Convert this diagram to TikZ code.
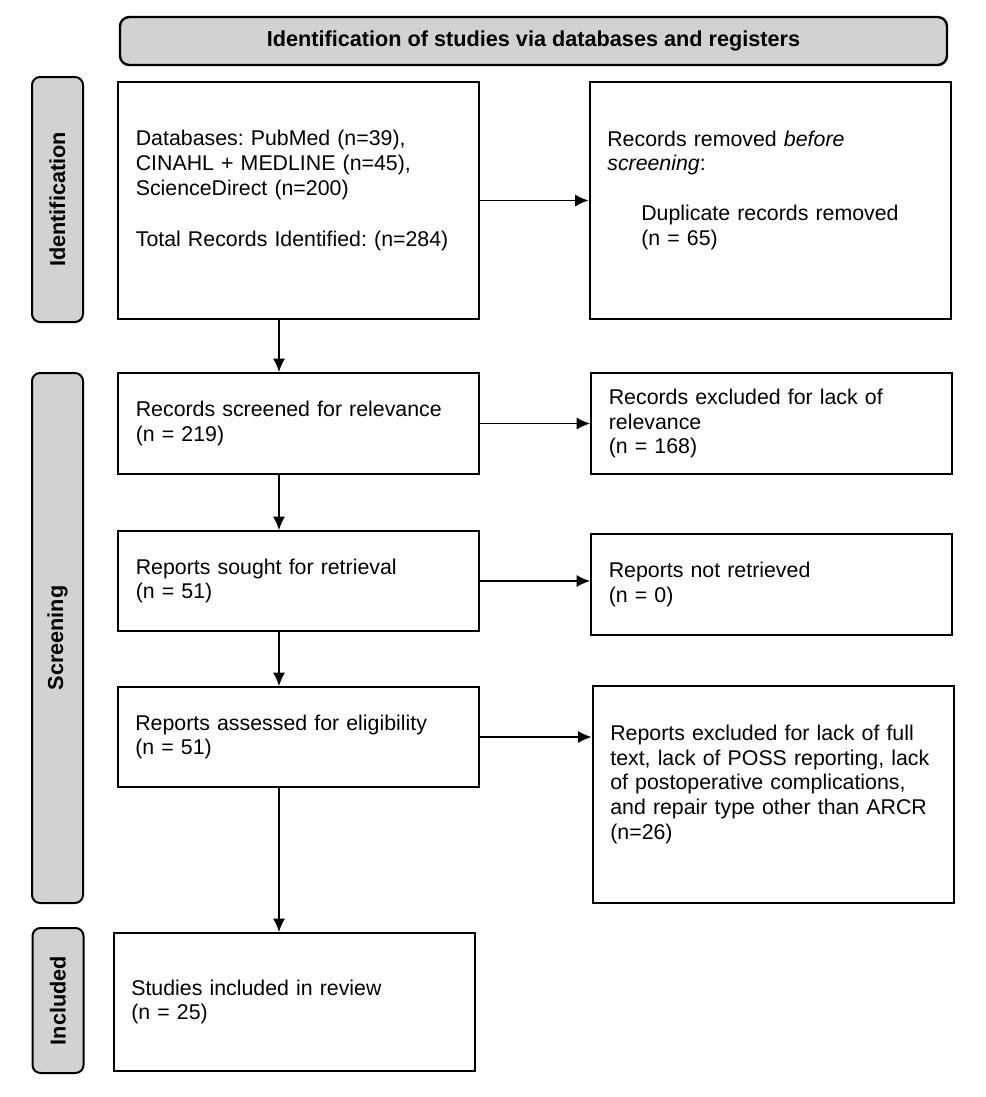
\documentclass[tikz,border=0pt]{standalone}
\usepackage{fontspec}
\setmainfont{Liberation Sans}
\usetikzlibrary{arrows.meta}
\definecolor{tabgray}{RGB}{210,210,210}
\frenchspacing

\begin{document}
\begin{tikzpicture}[x=0.75pt, y=-0.75pt,
  box/.style={draw, line width=1.5pt, align=left, text width=244pt, inner xsep=13.375pt, font=\fontsize{16}{18.5}\selectfont},
  tab/.style={draw, line width=1.5pt, fill=tabgray, rounded corners=6pt, rotate=90, minimum height=38.25pt, inner sep=0pt, font=\fontsize{16.25}{18.5}\selectfont\bfseries},
  arr/.style={-{Latex[length=10pt,width=9pt]}, line width=1pt}]
\useasboundingbox (0,0) rectangle (986,1097);

% header and phase tabs
\node [draw, line width=1.8pt, fill=tabgray, rounded corners=7pt, minimum width=620.25pt, minimum height=36pt, font=\fontsize{16.25}{18.5}\selectfont\bfseries] (header) at (533.5,41) {Identification of studies via databases and registers};
\node [tab, minimum width=183.75pt] (tabident) at (57.5,199.5) {Identification};
\node [tab, minimum width=397.5pt] (tabscreen) at (57.5,638) {Screening};
\node [tab, minimum width=108.75pt] (tabincl) at (58,1000.5) {Included};

% main column
\node [box, minimum height=177.75pt] (ident) at (298.5,200.5) {Databases: PubMed (n=39),\\ CINAHL + MEDLINE (n=45),\\ ScienceDirect (n=200)\\[19.75pt] Total Records Identified: (n=284)\\ \mbox{}};
\node [box, minimum height=75.75pt] (screened) at (298.5,423.5) {Records screened for relevance\\ (n = 219)};
\node [box, minimum height=75pt] (sought) at (298.5,581) {Reports sought for retrieval\\ (n = 51)};
\node [box, minimum height=75pt] (assessed) at (298,737) {Reports assessed for eligibility\\ (n = 51)};
\node [box, minimum height=103.5pt] (included) at (294,1002) {Studies included in review\\ (n = 25)};

% right column
\node [box, minimum height=177.75pt] (removed) at (770,200.5) {Records removed \textit{before}\\ \textit{screening}:\\[19pt] \hspace*{25.5pt}Duplicate records removed\\ \hspace*{25.5pt}(n = 65)\\ \mbox{}};
\node [box, minimum height=75.75pt] (excluded) at (771.5,423.5) {Records excluded for lack of\\ relevance\\ (n = 168)};
\node [box, minimum height=75.75pt] (notretr) at (771.5,584.5) {Reports not retrieved\\ (n = 0)};
\node [box, minimum height=162.75pt] (reportsexcl) at (773,794.5) {Reports excluded for lack of full\\ text, lack of POSS reporting, lack\\ of postoperative complications,\\ and repair type other than ARCR\\ (n=26)\\ \mbox{}};

% connectors
\coordinate (spine) at (279,0);
\draw [arr] (ident.south -| spine) -- (screened.north -| spine);
\draw [arr] (screened.south -| spine) -- (sought.north -| spine);
\draw [arr] (sought.south -| spine) -- (assessed.north -| spine);
\draw [arr] (assessed.south -| spine) -- (included.north -| spine);
\draw [arr] (ident.east) -- (removed.west);
\draw [arr] (screened.east) -- (excluded.west);
\draw [arr] (sought.east) -- (sought.east -| notretr.west);
\draw [arr] (assessed.east) -- (assessed.east -| reportsexcl.west);
\end{tikzpicture}
\end{document}
